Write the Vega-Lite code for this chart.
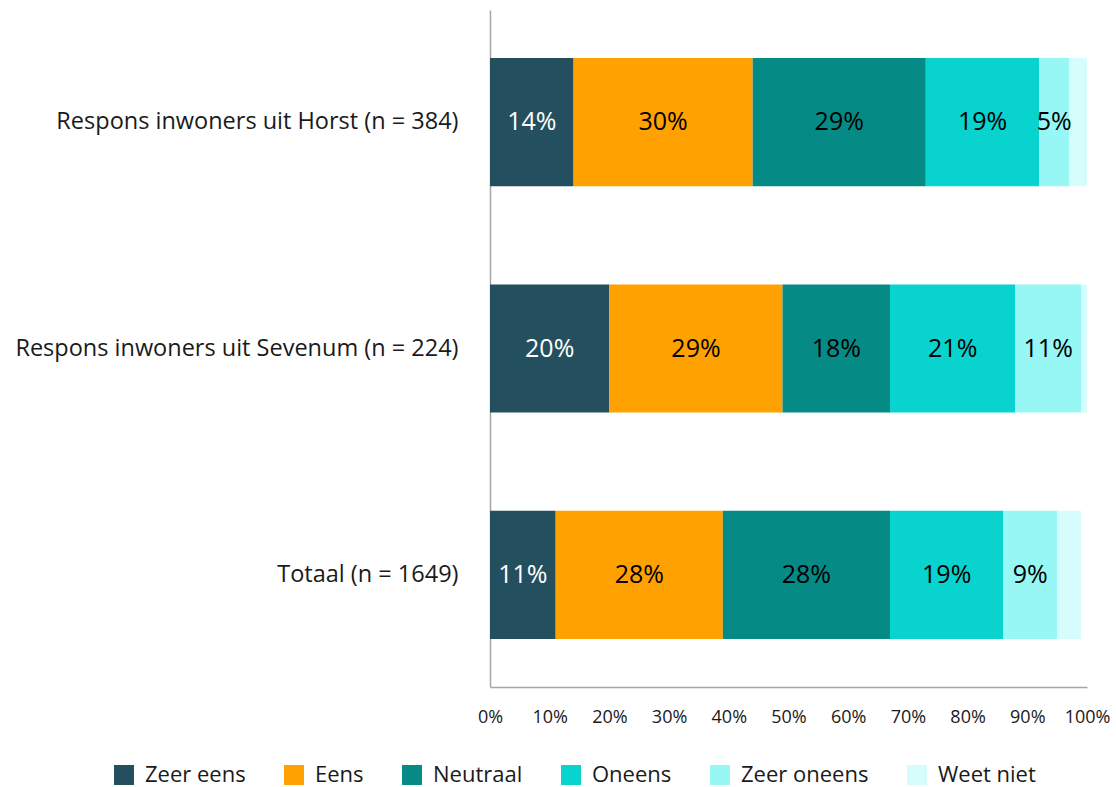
{
  "$schema": "https://vega.github.io/schema/vega-lite/v6.json",
  "width": 597,
  "height": 677,
  "padding": {"left": 14, "top": 10, "right": 6, "bottom": 0},
  "autosize": {"type": "pad"},
  "background": "white",
  "config": {
    "view": {"stroke": null},
    "font": "Open Sans"
  },
  "data": {
    "values": [
      {"groep": "Respons inwoners uit Horst (n = 384)", "antwoord": "Zeer eens", "o": 1, "pct": 14},
      {"groep": "Respons inwoners uit Horst (n = 384)", "antwoord": "Eens", "o": 2, "pct": 30},
      {"groep": "Respons inwoners uit Horst (n = 384)", "antwoord": "Neutraal", "o": 3, "pct": 29},
      {"groep": "Respons inwoners uit Horst (n = 384)", "antwoord": "Oneens", "o": 4, "pct": 19},
      {"groep": "Respons inwoners uit Horst (n = 384)", "antwoord": "Zeer oneens", "o": 5, "pct": 5},
      {"groep": "Respons inwoners uit Horst (n = 384)", "antwoord": "Weet niet", "o": 6, "pct": 3},
      {"groep": "Respons inwoners uit Sevenum (n = 224)", "antwoord": "Zeer eens", "o": 1, "pct": 20},
      {"groep": "Respons inwoners uit Sevenum (n = 224)", "antwoord": "Eens", "o": 2, "pct": 29},
      {"groep": "Respons inwoners uit Sevenum (n = 224)", "antwoord": "Neutraal", "o": 3, "pct": 18},
      {"groep": "Respons inwoners uit Sevenum (n = 224)", "antwoord": "Oneens", "o": 4, "pct": 21},
      {"groep": "Respons inwoners uit Sevenum (n = 224)", "antwoord": "Zeer oneens", "o": 5, "pct": 11},
      {"groep": "Respons inwoners uit Sevenum (n = 224)", "antwoord": "Weet niet", "o": 6, "pct": 1},
      {"groep": "Totaal (n = 1649)", "antwoord": "Zeer eens", "o": 1, "pct": 11},
      {"groep": "Totaal (n = 1649)", "antwoord": "Eens", "o": 2, "pct": 28},
      {"groep": "Totaal (n = 1649)", "antwoord": "Neutraal", "o": 3, "pct": 28},
      {"groep": "Totaal (n = 1649)", "antwoord": "Oneens", "o": 4, "pct": 19},
      {"groep": "Totaal (n = 1649)", "antwoord": "Zeer oneens", "o": 5, "pct": 9},
      {"groep": "Totaal (n = 1649)", "antwoord": "Weet niet", "o": 6, "pct": 4}
    ]
  },
  "transform": [
    {"stack": "pct", "groupby": ["groep"], "sort": [{"field": "o", "order": "ascending"}], "as": ["x0", "x1"]},
    {"calculate": "(datum.x0 + datum.x1) / 2", "as": "xm"},
    {"calculate": "datum.pct + '%'", "as": "label"}
  ],
  "encoding": {
    "y": {
      "field": "groep",
      "type": "nominal",
      "sort": ["Respons inwoners uit Horst (n = 384)", "Respons inwoners uit Sevenum (n = 224)", "Totaal (n = 1649)"],
      "scale": {"paddingInner": 0.434, "paddingOuter": 0.212},
      "axis": {
        "title": null,
        "ticks": false,
        "labelFontSize": 23.5,
        "labelColor": "#1a1a1a",
        "labelPadding": 32,
        "labelLimit": 600,
        "domainColor": "#a6a6a6",
        "domainWidth": 1.5
      }
    }
  },
  "layer": [
    {
      "mark": {"type": "bar"},
      "encoding": {
        "x": {
          "field": "x0",
          "type": "quantitative",
          "scale": {"domain": [0, 100], "nice": false},
          "axis": {
            "title": null,
            "values": [0, 10, 20, 30, 40, 50, 60, 70, 80, 90, 100],
            "labelExpr": "datum.value + '%'",
            "grid": false,
            "ticks": false,
            "labelFontSize": 18,
            "labelColor": "#1a1a1a",
            "labelPadding": 21,
            "labelFlush": false,
            "domainColor": "#a6a6a6",
            "domainWidth": 1.5,
            "labelOverlap": false
          }
        },
        "x2": {"field": "x1"},
        "color": {
          "field": "antwoord",
          "type": "nominal",
          "scale": {
            "domain": ["Zeer eens", "Eens", "Neutraal", "Oneens", "Zeer oneens", "Weet niet"],
            "range": ["#234F5E", "#FFA100", "#058A85", "#08D3CE", "#96F7F5", "#D6FDFC"]
          },
          "legend": {
            "title": null,
            "orient": "none",
            "legendX": -377,
            "legendY": 754,
            "padding": 0,
            "direction": "horizontal",
            "symbolType": "square",
            "symbolSize": 400,
            "symbolStrokeWidth": 0,
            "labelFontSize": 22,
            "labelColor": "#1a1a1a",
            "labelOffset": 10,
            "columnPadding": 37,
            "labelLimit": 300
          }
        }
      }
    },
    {
      "transform": [{"filter": "datum.pct >= 5"}],
      "mark": {"type": "text", "fontSize": 25, "baseline": "middle", "align": "center"},
      "encoding": {
        "x": {"field": "xm", "type": "quantitative"},
        "text": {"field": "label", "type": "nominal"},
        "color": {
          "condition": {"test": "datum.antwoord === 'Zeer eens'", "value": "white"},
          "value": "black"
        }
      }
    }
  ]
}
